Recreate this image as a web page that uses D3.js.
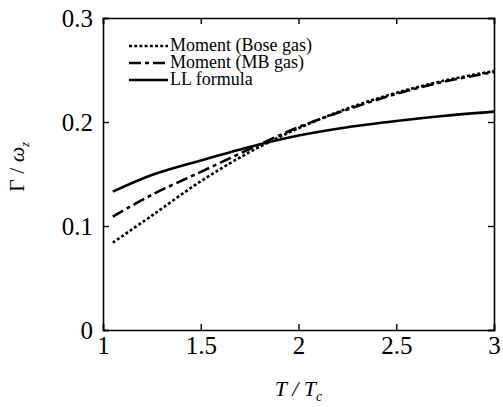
<!DOCTYPE html>
<html>
<head>
<meta charset="utf-8">
<script src="https://cdn.jsdelivr.net/npm/d3@7"></script>
<style>
  body { margin: 0; background: #fff; }
  svg text { font-family: 'Liberation Serif', 'Times New Roman', serif; fill: #000; }
</style>
</head>
<body>
<div id="chart"></div>
<script>
// values
let tValues = [1.05, 1.25, 1.5, 1.75, 2, 2.25, 2.5, 2.75, 3];
let boseGas = [0.084, 0.110, 0.143, 0.171, 0.194, 0.213, 0.228, 0.240, 0.249];
let mbGas = [0.109, 0.130, 0.152, 0.174, 0.195, 0.212, 0.227, 0.239, 0.248];
let llFormula = [0.133, 0.149, 0.163, 0.176, 0.187, 0.195, 0.201, 0.206, 0.210];
let xTicks = [1, 1.5, 2, 2.5, 3];
let yTicks = [0, 0.1, 0.2, 0.3];
let legendNames = ["Moment (Bose gas)", "Moment (MB gas)", "LL formula"];

let serif = "'Liberation Serif', 'Times New Roman', serif";

let margin = { top: 18, right: 9, bottom: 77, left: 103 },
  width = 503 - margin.left - margin.right,
  height = 407 - margin.top - margin.bottom;

let svg = d3.select("#chart")
  .append("svg")
  .attr("width", 503)
  .attr("height", 407)
  .append("g")
  .attr("transform", "translate(" + margin.left + "," + margin.top + ")");

let x = d3.scaleLinear().domain([1, 3]).range([0, width]);
let y = d3.scaleLinear().domain([0, 0.3]).range([height, 0]);

// inward ticks on all four sides
let tickFmt = d3.format("");
svg.append("g")
  .attr("transform", "translate(0," + height + ")")
  .call(d3.axisBottom(x).tickValues(xTicks).tickSize(-6).tickPadding(6).tickFormat(tickFmt));
svg.append("g")
  .call(d3.axisTop(x).tickValues(xTicks).tickSize(-6).tickFormat(""));
svg.append("g")
  .call(d3.axisLeft(y).tickValues(yTicks).tickSize(-6).tickPadding(10).tickFormat(tickFmt));
svg.append("g")
  .attr("transform", "translate(" + width + ",0)")
  .call(d3.axisRight(y).tickValues(yTicks).tickSize(-6).tickFormat(""));

svg.selectAll(".domain").attr("stroke", "#000").attr("stroke-width", 1.6);
svg.selectAll(".tick line").attr("stroke", "#000").attr("stroke-width", 1.4);
svg.selectAll(".tick text")
  .style("font-family", serif)
  .style("font-size", "25px")
  .attr("fill", "#000");

// axis titles
svg.append("text")
  .attr("x", width / 2)
  .attr("y", height + 66)
  .style("text-anchor", "middle")
  .style("font-size", "22px")
  .style("font-style", "italic")
  .html("T / T<tspan dy='5' font-size='14px'>c</tspan>");

svg.append("text")
  .attr("transform", "rotate(-90)")
  .attr("x", -149)
  .attr("y", -79)
  .style("text-anchor", "middle")
  .style("font-size", "22px")
  .html("Γ / <tspan font-style='italic'>ω</tspan><tspan dy='5' font-size='12px' font-style='italic'>z</tspan>");

let series = [
  { name: legendNames[0], values: boseGas, dash: "3,2.2", w: 2.6 },
  { name: legendNames[1], values: mbGas, dash: "12,4,4,4", w: 2.6 },
  { name: legendNames[2], values: llFormula, dash: null, w: 2.6 }
];

let line = d3.line()
  .x(function (d, i) { return x(tValues[i]); })
  .y(function (d) { return y(d); })
  .curve(d3.curveCatmullRom);

series.forEach(function (s) {
  svg.append("path")
    .datum(s.values)
    .attr("fill", "none")
    .attr("stroke", "#000")
    .attr("stroke-width", s.w)
    .attr("stroke-dasharray", s.dash)
    .attr("d", line);
});

// legend
let legend = svg.append("g").attr("transform", "translate(26,28)");
series.forEach(function (s, i) {
  legend.append("line")
    .attr("x1", 0).attr("x2", 39)
    .attr("y1", i * 17).attr("y2", i * 17)
    .attr("stroke", "#000")
    .attr("stroke-width", s.w)
    .attr("stroke-dasharray", s.dash);
  legend.append("text")
    .attr("x", 41)
    .attr("y", i * 17 + 5)
    .style("font-size", "18px")
    .text(s.name);
});
</script>
</body>
</html>
